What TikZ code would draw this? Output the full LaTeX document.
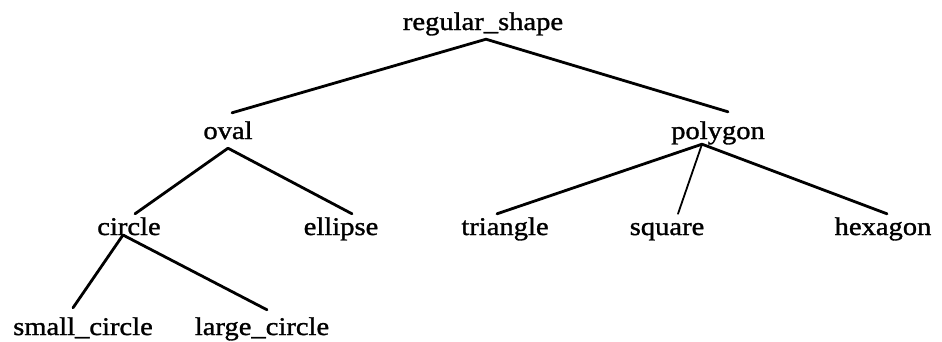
\documentclass[tikz,border=0pt]{standalone}
\usepackage{fontspec}
\setmainfont{Liberation Serif}[FakeStretch=1.12, FakeBold=1.2]
\usepackage{tikz}
\tikzset{
  term/.style={font=\fontsize{25.5}{30}\selectfont, anchor=base, inner xsep=0pt, inner ysep=3pt, text height=18pt, text depth=6pt},
  branch/.style={line width=2.8pt, line cap=round},
}

\begin{document}
\begin{tikzpicture}[x=1pt, y=-1pt]
  \useasboundingbox (0,0) rectangle (942,341);

  \node (rs) [term] at (483,30) {regular\_shape};
  \node (ov) [term] at (228,139) {oval};
  \node (pg) [term] at (718,139) {polygon};
  \node (ci) [term] at (129,235) {circle};
  \node (el) [term] at (341,235) {ellipse};
  \node (tr) [term] at (505,235) {triangle};
  \node (sq) [term] at (667,235) {square};
  \node (hx) [term] at (883,235) {hexagon};
  \node (sc) [term] at (83,335) {small\_circle};
  \node (lc) [term] at (262,335) {large\_circle};

  \draw [branch] ([xshift=3pt]rs.south) -- ([xshift=4pt,yshift=5pt]ov.north)
                 ([xshift=3pt]rs.south) -- ([xshift=10pt,yshift=6pt]pg.north);
  \draw [branch] (ov.south) -- ([xshift=6pt]ci.north) (ov.south) -- ([xshift=11pt]el.north);
  \draw [branch] ([xshift=-16pt,yshift=4pt]pg.south) -- ([xshift=-8pt]tr.north)
                 ([xshift=-16pt,yshift=4pt]pg.south) -- ([xshift=4pt]hx.north);
  \draw [branch, line width=1.8pt] ([xshift=-16pt,yshift=4pt]pg.south) -- ([xshift=11pt]sq.north);
  \draw [branch] ([xshift=-6pt]ci.base) -- ([xshift=-10pt,yshift=6pt]sc.north)
                 ([xshift=-6pt]ci.base) -- ([xshift=5pt,yshift=4pt]lc.north);

\end{tikzpicture}
\end{document}
